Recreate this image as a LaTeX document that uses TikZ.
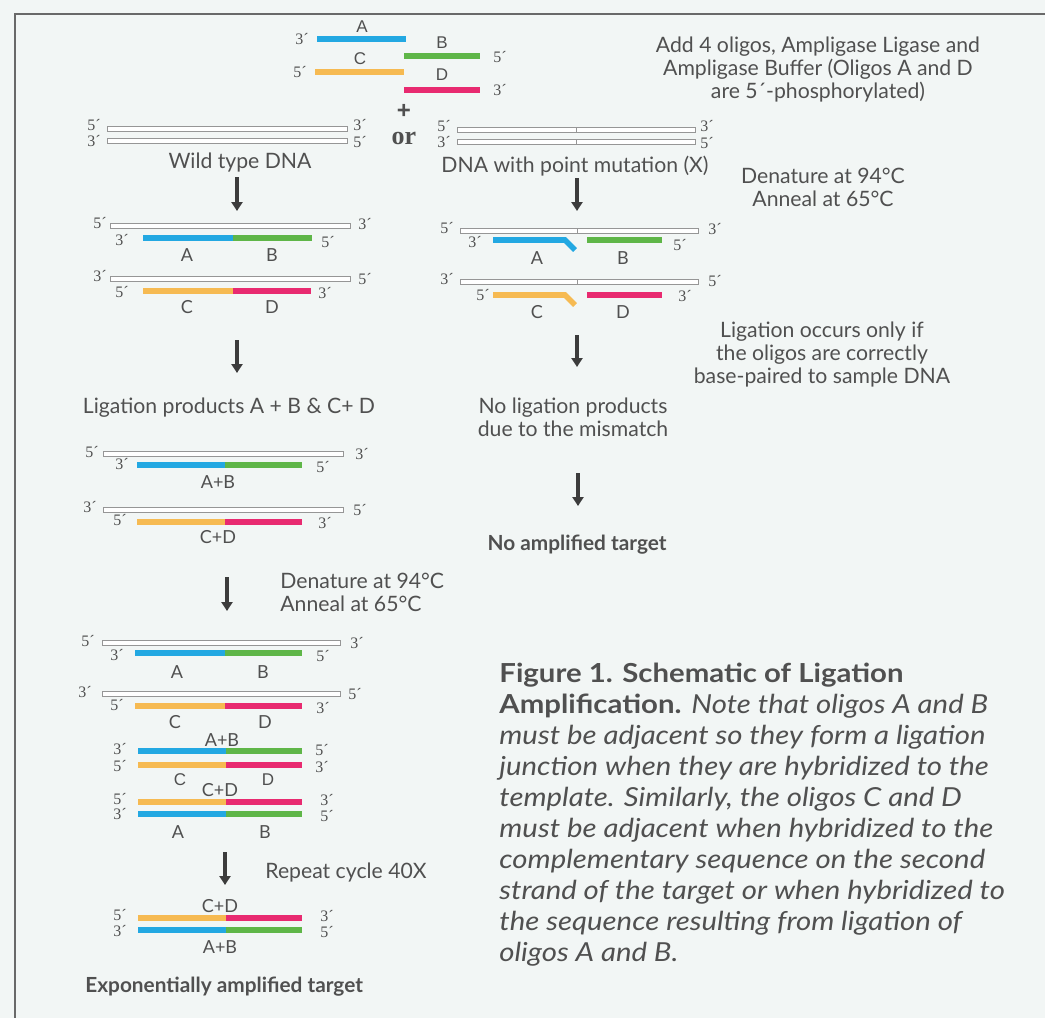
\documentclass[tikz,border=0pt]{standalone}
\usepackage{fontspec}
\setmainfont{Lato}
\newfontfamily\primefont{Liberation Serif}
\newfontfamily\helvfont{Liberation Sans}
\newfontfamily\capfont[FakeStretch=1.12]{Lato}
\usepackage{tikz}
\usetikzlibrary{arrows.meta}

\definecolor{oliA}{RGB}{35,168,226}
\definecolor{oliB}{RGB}{95,182,72}
\definecolor{oliC}{RGB}{246,186,82}
\definecolor{oliD}{RGB}{232,42,112}
\definecolor{ink}{RGB}{80,80,80}
\definecolor{paper}{RGB}{242,246,245}
\definecolor{rim}{RGB}{150,150,150}

\begin{document}
\begin{tikzpicture}
      [x=0.5pt,y=-0.5pt,every node/.style={inner sep=0pt,text=ink}]

      \tikzstyle{prime} = [font=\primefont\fontsize{8}{8}\selectfont]
      \tikzstyle{lbl} = [font=\fontsize{9}{10}\selectfont]
      \tikzstyle{hlbl} = [font=\helvfont\fontsize{8.5}{9}\selectfont]
      \tikzstyle{note} = [font=\fontsize{10.6}{11.5}\selectfont,align=center]
      \tikzstyle{boldnote} = [font=\bfseries\fontsize{10.4}{11.5}\selectfont]
      \tikzstyle{strand} = [draw=rim,fill=white,line width=0.5pt]
      \tikzstyle{oligo} = [line width=2.8pt]
      \tikzstyle{flow} = [-{Triangle[width=5.5pt,length=4.5pt]},line width=2pt,draw=ink!75!black]

      \fill[paper] (0,0) rectangle (1045,1018);
      \useasboundingbox (0,0) rectangle (1045,1018);
      \draw[rim!70!black,line width=0.8pt] (15,1018) -- (15,14) -- (1045,14);

      % the four oligos
      \draw[oligo,oliA] (317,39) -- (406,39);
      \draw[oligo,oliB] (404,56) -- (480,56);
      \draw[oligo,oliC] (315,72) -- (404,72);
      \draw[oligo,oliD] (404,90) -- (480,90);
      \node[hlbl] (tA) at (362,27) {A};
      \node[hlbl] (tB) at (442,43) {B};
      \node[hlbl] (tC) at (360,59) {C};
      \node[hlbl] (tD) at (442,75) {D};
      \node[prime] (tp1) at (302,39) {3´};
      \node[prime] (tp2) at (500,57) {5´};
      \node[prime] (tp3) at (300,72) {5´};
      \node[prime] (tp4) at (500,90) {3´};
      \node[font=\helvfont\bfseries\fontsize{12}{12}\selectfont] (plus) at (404,111) {+};
      \node[font=\primefont\bfseries\fontsize{13}{13}\selectfont] (or) at (404,138) {or};

      \node[note] (add) at (818,70) {Add 4 oligos, Ampligase Ligase and\\Ampligase Buffer (Oligos A and D\\are 5´-phosphorylated)};

      % sample DNA
      \draw[strand] (107,126) rectangle (347,131);
      \draw[strand] (107,138) rectangle (347,143);
      \node[prime] (wp1) at (94,125) {5´};
      \node[prime] (wp2) at (94,141) {3´};
      \node[prime] (wp3) at (360,125) {3´};
      \node[prime] (wp4) at (360,142) {5´};
      \node[note] (wild) at (240,163) {Wild type DNA};

      \draw[strand] (457,127) rectangle (695,132);
      \draw[strand] (457,139) rectangle (695,144);
      \draw[rim] (576,127) -- (576,132) (576,139) -- (576,144);
      \node[prime] (mp1) at (444,126) {5´};
      \node[prime] (mp2) at (444,142) {3´};
      \node[prime] (mp3) at (707,126) {3´};
      \node[prime] (mp4) at (707,143) {5´};
      \node[note] (mut) at (575,166) {DNA with point mutation (X)};

      \node[note] (den1) at (823,187) {Denature at 94°C\\Anneal at 65°C};

      \coordinate (s1) at (237,177); \coordinate (e1) at (237,211);
      \coordinate (s2) at (577,178); \coordinate (e2) at (577,211);
      \draw[flow] (s1) -- (e1);
      \draw[flow] (s2) -- (e2);

      % annealed, wild type
      \draw[strand] (110,223) rectangle (350,228);
      \node[prime] (ap1) at (100,223) {5´};
      \node[prime] (ap2) at (365,224) {3´};
      \draw[oligo,oliA] (143,238) -- (233,238);
      \draw[oligo,oliB] (233,238) -- (312,238);
      \node[prime] (ap3) at (122,240) {3´};
      \node[prime] (ap4) at (328,242) {5´};
      \node[lbl] (aA) at (187,255) {A};
      \node[lbl] (aB) at (272,255) {B};
      \draw[strand] (110,276) rectangle (350,281);
      \node[prime] (ap5) at (100,276) {3´};
      \node[prime] (ap6) at (365,279) {5´};
      \draw[oligo,oliC] (143,291) -- (233,291);
      \draw[oligo,oliD] (233,291) -- (311,291);
      \node[prime] (ap7) at (122,292) {5´};
      \node[prime] (ap8) at (325,293) {3´};
      \node[lbl] (aC) at (187,307) {C};
      \node[lbl] (aD) at (272,307) {D};

      % annealed, mutation
      \draw[strand] (460,228) rectangle (698,233);
      \draw[rim] (577,228) -- (577,233);
      \node[prime] (bp1) at (447,228) {5´};
      \node[prime] (bp2) at (715,229) {3´};
      \draw[oligo,oliA] (493,240) -- (565,240) -- (575,250);
      \draw[oligo,oliB] (587,240) -- (662,240);
      \node[prime] (bp3) at (475,242) {3´};
      \node[prime] (bp4) at (680,245) {5´};
      \node[lbl] (bA) at (537,258) {A};
      \node[lbl] (bB) at (623,258) {B};
      \draw[strand] (460,279) rectangle (698,284);
      \draw[rim] (577,279) -- (577,284);
      \node[prime] (bp5) at (447,279) {3´};
      \node[prime] (bp6) at (715,281) {5´};
      \draw[oligo,oliC] (493,295) -- (565,295) -- (575,305);
      \draw[oligo,oliD] (587,295) -- (662,295);
      \node[prime] (bp7) at (483,295) {5´};
      \node[prime] (bp8) at (685,296) {3´};
      \node[lbl] (bC) at (537,312) {C};
      \node[lbl] (bD) at (623,312) {D};

      \coordinate (s3) at (237,340); \coordinate (e3) at (237,373);
      \coordinate (s4) at (577,335); \coordinate (e4) at (577,367);
      \draw[flow] (s3) -- (e3);
      \draw[flow] (s4) -- (e4);

      \node[note] (only) at (822,355) {Ligation occurs only if\\the oligos are correctly\\base-paired to sample DNA};
      \node[note] (lig) at (229,408) {Ligation products A + B \& C+ D};
      \node[note] (noprod) at (573,417) {No ligation products\\due to the mismatch};

      \coordinate (s5) at (578,473); \coordinate (e5) at (578,506);
      \draw[flow] (s5) -- (e5);
      \node[boldnote] (noamp) at (577,545) {No amplified target};

      % ligated products
      \draw[strand] (103,451) rectangle (343,456);
      \node[prime] (cp1) at (92,452) {5´};
      \node[prime] (cp2) at (362,454) {3´};
      \draw[oligo,oliA] (137,465) -- (225,465);
      \draw[oligo,oliB] (225,465) -- (302,465);
      \node[prime] (cp3) at (122,464) {3´};
      \node[prime] (cp4) at (323,467) {5´};
      \node[lbl] (cAB) at (218,482) {A+B};
      \draw[strand] (103,507) rectangle (343,512);
      \node[prime] (cp5) at (90,507) {3´};
      \node[prime] (cp6) at (360,510) {5´};
      \draw[oligo,oliC] (137,522) -- (225,522);
      \draw[oligo,oliD] (225,522) -- (302,522);
      \node[prime] (cp7) at (120,520) {5´};
      \node[prime] (cp8) at (325,523) {3´};
      \node[lbl] (cCD) at (218,537) {C+D};

      \coordinate (s6) at (227,577); \coordinate (e6) at (227,611);
      \draw[flow] (s6) -- (e6);
      \node[note,align=left,anchor=west] (den2) at (280,592) {Denature at 94°C\\Anneal at 65°C};

      % second round
      \draw[strand] (102,640) rectangle (340,645);
      \node[prime] (dp1) at (88,641) {5´};
      \node[prime] (dp2) at (357,643) {3´};
      \draw[oligo,oliA] (135,653) -- (225,653);
      \draw[oligo,oliB] (225,653) -- (302,653);
      \node[prime] (dp3) at (117,655) {3´};
      \node[prime] (dp4) at (323,656) {5´};
      \node[lbl] (dA) at (177,672) {A};
      \node[lbl] (dB) at (263,672) {B};
      \draw[strand] (102,691) rectangle (340,696);
      \node[prime] (dp5) at (85,692) {3´};
      \node[prime] (dp6) at (355,694) {5´};
      \draw[oligo,oliC] (135,706) -- (225,706);
      \draw[oligo,oliD] (225,706) -- (302,706);
      \node[prime] (dp7) at (117,705) {5´};
      \node[prime] (dp8) at (323,708) {3´};
      \node[lbl] (dC) at (175,722) {C};
      \node[lbl] (dD) at (265,722) {D};

      \node[lbl] (eAB) at (222,740) {A+B};
      \draw[oligo,oliA] (138,751) -- (226,751);
      \draw[oligo,oliB] (226,751) -- (302,751);
      \node[prime] (ep1) at (120,749) {3´};
      \node[prime] (ep2) at (322,750) {5´};
      \draw[oligo,oliC] (138,765) -- (226,765);
      \draw[oligo,oliD] (226,765) -- (302,765);
      \node[prime] (ep3) at (120,766) {5´};
      \node[prime] (ep4) at (322,767) {3´};
      \node[hlbl] (eC) at (180,780) {C};
      \node[hlbl] (eD) at (268,780) {D};

      \node[lbl] (fCD) at (220,790) {C+D};
      \draw[oligo,oliC] (138,802) -- (226,802);
      \draw[oligo,oliD] (226,802) -- (302,802);
      \node[prime] (fp1) at (120,799) {5´};
      \node[prime] (fp2) at (327,800) {3´};
      \draw[oligo,oliA] (138,814) -- (226,814);
      \draw[oligo,oliB] (226,814) -- (302,814);
      \node[prime] (fp3) at (120,814) {3´};
      \node[prime] (fp4) at (327,816) {5´};
      \node[lbl] (fA) at (178,832) {A};
      \node[lbl] (fB) at (265,832) {B};

      \coordinate (s7) at (225,852); \coordinate (e7) at (225,885);
      \draw[flow] (s7) -- (e7);
      \node[note,anchor=west] (rep) at (265,872) {Repeat cycle 40X};

      % amplified target
      \node[lbl] (gCD) at (220,906) {C+D};
      \draw[oligo,oliC] (138,918) -- (226,918);
      \draw[oligo,oliD] (226,918) -- (302,918);
      \node[prime] (gp1) at (120,915) {5´};
      \node[prime] (gp2) at (327,916) {3´};
      \draw[oligo,oliA] (138,930) -- (226,930);
      \draw[oligo,oliB] (226,930) -- (302,930);
      \node[prime] (gp3) at (120,931) {3´};
      \node[prime] (gp4) at (327,932) {5´};
      \node[lbl] (gAB) at (220,947) {A+B};
      \node[boldnote,anchor=west] (expo) at (85,987) {Exponentially amplified target};

      \node[anchor=north west,align=left,font=\capfont\fontsize{13.1}{15.5}\selectfont] (cap) at (499,663)
        {\textbf{Figure 1. Schematic of Ligation}\\
         \textbf{Amplification.} \textit{Note that oligos A and B}\\
         \textit{must be adjacent so they form a ligation}\\
         \textit{junction when they are hybridized to the}\\
         \textit{template. Similarly, the oligos C and D}\\
         \textit{must be adjacent when hybridized to the}\\
         \textit{complementary sequence on the second}\\
         \textit{strand of the target or when hybridized to}\\
         \textit{the sequence resulting from ligation of}\\
         \textit{oligos A and B.}};
\end{tikzpicture}
\end{document}
